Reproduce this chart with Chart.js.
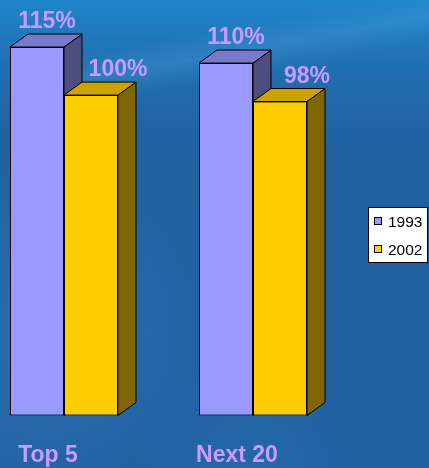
<!DOCTYPE html>
<html>
<head>
<meta charset="utf-8">
<title>Top 5 vs Next 20</title>
<script src="https://cdn.jsdelivr.net/npm/chart.js@4/dist/chart.umd.min.js"></script>
<style>
  html, body { margin: 0; padding: 0; background: #21609f; }
  #wrap { width: 429px; height: 468px; }
</style>
</head>
<body>
<div id="wrap"><canvas id="chart" width="429" height="468"></canvas></div>
<script>
// Chart data
const categories = ['Top 5', 'Next 20'];
const seriesNames = ['1993', '2002'];
const values1993 = [115, 110];
const values2002 = [100, 98];

// Styling
const frontColors = ['#9999FF', '#FFCC00'];
const topColors = ['#7A7ACC', '#CCA300'];
const sideColors = ['#4D4D80', '#806600'];
const labelColor = '#CC99FF';
const depthX = 18, depthY = 13;
const labelShift = [1, 18];
const fontFamily = '"Liberation Sans", Arial, sans-serif';
const boldFont = 'bold 23px ' + fontFamily;

// Painted backdrop: deep blue with a lighter sweep near the top
const backdrop = {
  id: 'backdrop',
  beforeDraw(chart) {
    const { ctx, width, height } = chart;
    ctx.save();
    ctx.fillStyle = '#21609f';
    ctx.fillRect(0, 0, width, height);
    let g = ctx.createLinearGradient(0, 0, 0, 160);
    g.addColorStop(0, 'rgba(30,140,210,0.85)');
    g.addColorStop(0.5, 'rgba(30,130,200,0.35)');
    g.addColorStop(1, 'rgba(30,120,190,0)');
    ctx.fillStyle = g;
    ctx.fillRect(0, 0, width, 160);
    // soft diagonal streak
    ctx.translate(300, 40);
    ctx.rotate(-0.18);
    g = ctx.createLinearGradient(0, -25, 0, 25);
    g.addColorStop(0, 'rgba(90,170,230,0)');
    g.addColorStop(0.5, 'rgba(90,170,230,0.25)');
    g.addColorStop(1, 'rgba(90,170,230,0)');
    ctx.fillStyle = g;
    ctx.fillRect(-260, -25, 520, 50);
    ctx.restore();
    // lighter haze along the left side and the bottom
    ctx.save();
    g = ctx.createRadialGradient(40, 330, 10, 40, 330, 200);
    g.addColorStop(0, 'rgba(50,130,200,0.35)');
    g.addColorStop(1, 'rgba(50,130,200,0)');
    ctx.fillStyle = g;
    ctx.fillRect(0, 0, width, height);
    g = ctx.createRadialGradient(250, 470, 10, 250, 470, 120);
    g.addColorStop(0, 'rgba(40,120,190,0.3)');
    g.addColorStop(1, 'rgba(40,120,190,0)');
    ctx.fillStyle = g;
    ctx.fillRect(0, 0, width, height);
    ctx.restore();
  }
};

// Top and side faces give every bar its box shape
const boxFaces = {
  id: 'boxFaces',
  beforeDatasetsDraw(chart) {
    const { ctx } = chart;
    ctx.save();
    ctx.lineWidth = 1;
    ctx.strokeStyle = '#000';
    ctx.lineJoin = 'round';
    chart.data.datasets.forEach((ds, di) => {
      chart.getDatasetMeta(di).data.forEach(bar => {
        const { x, y, base, width } = bar.getProps(['x', 'y', 'base', 'width'], true);
        const l = x - width / 2, r = x + width / 2;
        // side
        ctx.beginPath();
        ctx.moveTo(r, y);
        ctx.lineTo(r + depthX, y - depthY);
        ctx.lineTo(r + depthX, base - depthY);
        ctx.lineTo(r, base);
        ctx.closePath();
        ctx.fillStyle = sideColors[di];
        ctx.fill();
        ctx.stroke();
        // top
        ctx.beginPath();
        ctx.moveTo(l, y);
        ctx.lineTo(l + depthX, y - depthY);
        ctx.lineTo(r + depthX, y - depthY);
        ctx.lineTo(r, y);
        ctx.closePath();
        ctx.fillStyle = topColors[di];
        ctx.fill();
        ctx.stroke();
      });
    });
    ctx.restore();
  },
  afterDatasetsDraw(chart) {
    const { ctx } = chart;
    ctx.save();
    ctx.font = boldFont;
    ctx.fillStyle = labelColor;
    ctx.textAlign = 'center';
    ctx.textBaseline = 'alphabetic';
    chart.data.datasets.forEach((ds, di) => {
      chart.getDatasetMeta(di).data.forEach((bar, i) => {
        const { x, y } = bar.getProps(['x', 'y'], true);
        ctx.fillText(ds.data[i] + '%', x + depthX / 2 + labelShift[di], y - depthY - 6);
      });
    });
    ctx.restore();
  }
};

// Boxed legend at the right edge
const boxLegend = {
  id: 'boxLegend',
  afterDraw(chart) {
    const { ctx } = chart;
    ctx.save();
    ctx.fillStyle = '#fff';
    ctx.strokeStyle = '#000';
    ctx.lineWidth = 1;
    ctx.fillRect(368.5, 207.5, 59, 55);
    ctx.strokeRect(368.5, 207.5, 59, 55);
    ctx.font = '15.5px ' + fontFamily;
    ctx.textBaseline = 'alphabetic';
    ctx.textAlign = 'left';
    chart.data.datasets.forEach((ds, di) => {
      const cy = 221 + di * 28;
      ctx.fillStyle = ds.backgroundColor;
      ctx.fillRect(374.5, cy - 3.5, 7, 7);
      ctx.strokeRect(374.5, cy - 3.5, 7, 7);
      ctx.fillStyle = '#000';
      ctx.fillText(ds.label, 388, cy + 6);
    });
    ctx.restore();
  }
};

new Chart(document.getElementById('chart'), {
  type: 'bar',
  data: {
    labels: categories,
    datasets: [
      { label: seriesNames[0], data: values1993, backgroundColor: frontColors[0] },
      { label: seriesNames[1], data: values2002, backgroundColor: frontColors[1] }
    ]
  },
  options: {
    responsive: false,
    devicePixelRatio: 1,
    animation: false,
    events: [],
    layout: { padding: { left: 64, right: 176, top: 15, bottom: 0 } },
    datasets: {
      bar: {
        categoryPercentage: 0.5714,
        barPercentage: 1,
        borderColor: '#000',
        borderWidth: 1,
        borderSkipped: false,
        clip: false
      }
    },
    plugins: {
      legend: { display: false },
      tooltip: { enabled: false }
    },
    scales: {
      x: {
        offset: false,
        grid: { display: false, drawTicks: false, tickLength: 0 },
        border: { display: false },
        ticks: {
          color: labelColor,
          font: { family: fontFamily, size: 23, weight: 'bold' },
          labelOffset: -16,
          padding: 26,
          maxRotation: 0,
          autoSkip: false
        },
        afterFit(scale) { scale.height = 52.5; }
      },
      y: {
        display: false,
        min: 0,
        max: 125
      }
    }
  },
  plugins: [backdrop, boxFaces, boxLegend]
});
</script>
</body>
</html>
